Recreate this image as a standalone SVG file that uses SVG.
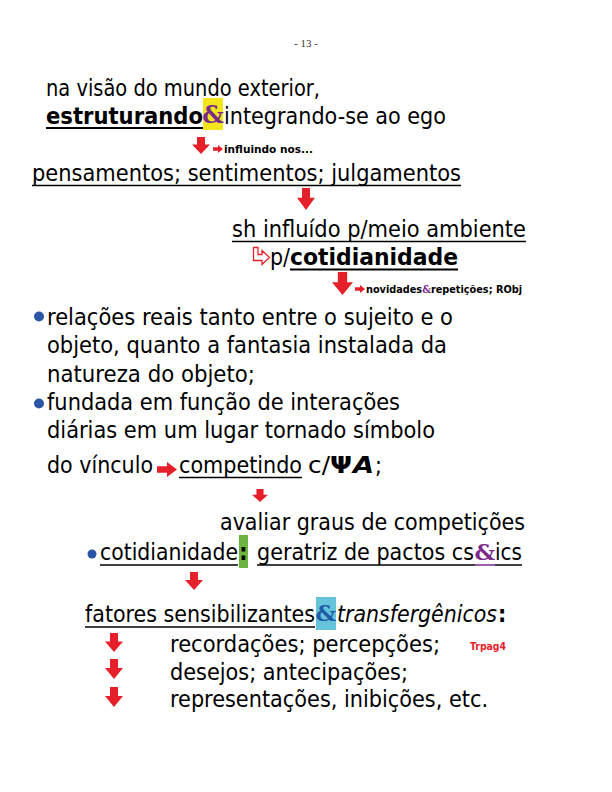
<svg xmlns="http://www.w3.org/2000/svg" width="612" height="792" viewBox="0 0 612 792">
<style>
.t{font-family:"DejaVu Sans","Noto Sans",sans-serif;font-stretch:condensed;font-size:23px;fill:#000}
.b{font-weight:bold}
.i{font-style:italic}
.s{font-family:"DejaVu Sans","Noto Sans",sans-serif;font-stretch:condensed;font-size:11px;font-weight:bold;fill:#000}
.amp{font-family:"DejaVu Serif","Liberation Serif",serif;font-weight:bold;font-size:24px}
.ul{stroke:#000;stroke-width:1.5}
.ulb{stroke:#000;stroke-width:2.2}
.bul{fill:#2b55a5}
</style>
<defs>
<symbol id="dn" viewBox="0 0 18 18" preserveAspectRatio="none"><path d="M5,0 H13 V8 H18 L9,18 L0,8 H5 Z" fill="#e5202a"/></symbol>
<symbol id="rt" viewBox="0 0 18 18" preserveAspectRatio="none"><path d="M0,5 H9 V0 L18,9 L9,18 V13 H0 Z" fill="#e5202a"/></symbol>
</defs>

<text x="306" y="47" text-anchor="middle" style="font-family:'Liberation Serif',serif;font-size:11px;fill:#333">- 13 -</text>

<g id="line1">
<text class="t" x="46" y="96" textLength="274" lengthAdjust="spacingAndGlyphs">na visão do mundo exterior,</text>
</g>

<g id="line2">
<text class="t b" x="46" y="124" textLength="157" lengthAdjust="spacingAndGlyphs">estruturando</text>
<line class="ulb" x1="46" y1="128" x2="203" y2="128"/>
<rect x="203" y="98" width="20" height="32" fill="#f2e51c"/>
<text class="amp" x="213" y="123" text-anchor="middle" fill="#7b2a8c">&amp;</text>
<text class="t" x="224" y="124" textLength="222" lengthAdjust="spacingAndGlyphs">integrando-se ao ego</text>
</g>

<g id="connectors">
<use href="#dn" x="192" y="137" width="18" height="17"/>
<use href="#rt" x="213" y="145" width="10" height="8"/>
<use href="#dn" x="297" y="188" width="18" height="22"/>
<path d="M253.5,247.5 H258 V254.5 H262 V250.5 L269.5,257.5 L262,264.5 V260.5 H253.5 Z" fill="#fff" stroke="#e5202a" stroke-width="1.3"/>
<use href="#dn" x="332" y="272" width="21" height="23"/>
<use href="#rt" x="355" y="285" width="10" height="8"/>
<use href="#rt" x="157" y="462" width="20" height="15"/>
<use href="#dn" x="252" y="489" width="16" height="13"/>
<use href="#dn" x="185" y="572" width="18" height="18"/>
<use href="#dn" x="105" y="633" width="18" height="19"/>
<use href="#dn" x="105" y="659" width="18" height="20"/>
<use href="#dn" x="105" y="687" width="18" height="20"/>
</g>

<g id="influindo">
<text class="s" x="224" y="153" textLength="89" lengthAdjust="spacingAndGlyphs">influindo nos...</text>
</g>

<g id="pensamentos">
<text class="t" x="32" y="181" textLength="429" lengthAdjust="spacingAndGlyphs">pensamentos; sentimentos; julgamentos</text>
<line class="ul" x1="32" y1="185.5" x2="461" y2="185.5"/>
</g>

<g id="sh">
<text class="t" x="232" y="237" textLength="294" lengthAdjust="spacingAndGlyphs">sh influído p/meio ambiente</text>
<line class="ul" x1="232" y1="241.5" x2="526" y2="241.5"/>
</g>

<g id="cotid1">
<text class="t" x="270" y="265" textLength="20" lengthAdjust="spacingAndGlyphs">p/</text>
<text class="t b" x="290" y="265" textLength="168" lengthAdjust="spacingAndGlyphs">cotidianidade</text>
<line class="ulb" x1="290" y1="269.5" x2="458" y2="269.5"/>
</g>

<g id="novidades">
<text class="s" x="366" y="293" textLength="156" lengthAdjust="spacingAndGlyphs">novidades<tspan style="font-family:'DejaVu Serif',serif;fill:#7b2a8c">&amp;</tspan>repetições; RObj</text>
</g>

<g id="bullet1">
<circle class="bul" cx="39" cy="316.5" r="5"/>
<text class="t" x="47" y="325" textLength="406" lengthAdjust="spacingAndGlyphs">relações reais tanto entre o sujeito e o</text>
<text class="t" x="47" y="353" textLength="400" lengthAdjust="spacingAndGlyphs">objeto, quanto a fantasia instalada da</text>
<text class="t" x="47" y="382" textLength="208" lengthAdjust="spacingAndGlyphs">natureza do objeto;</text>
</g>

<g id="bullet2">
<circle class="bul" cx="39" cy="403.5" r="5"/>
<text class="t" x="47" y="410" textLength="353" lengthAdjust="spacingAndGlyphs">fundada em função de interações</text>
<text class="t" x="47" y="438" textLength="388" lengthAdjust="spacingAndGlyphs">diárias em um lugar tornado símbolo</text>
<text class="t" x="47" y="473" textLength="106" lengthAdjust="spacingAndGlyphs">do vínculo</text>
<text class="t" x="179" y="473" textLength="123" lengthAdjust="spacingAndGlyphs">competindo</text>
<line class="ul" x1="179" y1="477.5" x2="302" y2="477.5"/>
<text class="t" x="308" y="473" textLength="22" lengthAdjust="spacingAndGlyphs">c/</text>
<text class="t b" x="330" y="473" textLength="22" lengthAdjust="spacingAndGlyphs">Ψ</text>
<text class="t b i" x="353" y="473" textLength="21" lengthAdjust="spacingAndGlyphs">A</text>
<text class="t" x="375" y="473">;</text>
</g>

<g id="avaliar">
<text class="t" x="220" y="530" textLength="305" lengthAdjust="spacingAndGlyphs">avaliar graus de competições</text>
</g>

<g id="bullet3">
<circle class="bul" cx="92" cy="554" r="4.5"/>
<text class="t" x="100" y="560" textLength="138" lengthAdjust="spacingAndGlyphs">cotidianidade</text>
<line class="ul" x1="100" y1="565" x2="238" y2="565"/>
<rect x="239" y="535" width="9" height="33" fill="#6cb33f"/>
<text class="t b" x="243.5" y="560" text-anchor="middle">:</text>
<text class="t" x="257" y="560" textLength="217" lengthAdjust="spacingAndGlyphs">geratriz de pactos cs</text>
<text class="amp" x="485" y="560" text-anchor="middle" fill="#7b2a8c" style="font-size:23px">&amp;</text>
<text class="t" x="495" y="560" textLength="27" lengthAdjust="spacingAndGlyphs">ics</text>
<line class="ul" x1="257" y1="565" x2="475" y2="565"/>
<line x1="475" y1="565" x2="495" y2="565" stroke="#7b2a8c" stroke-width="1.5"/>
<line class="ul" x1="495" y1="565" x2="522" y2="565"/>
</g>

<g id="fatores">
<text class="t" x="85" y="622" textLength="230" lengthAdjust="spacingAndGlyphs">fatores sensibilizantes</text>
<line class="ul" x1="85" y1="627" x2="315" y2="627"/>
<rect x="316" y="597" width="20" height="33" fill="#66c4da"/>
<text class="amp" x="326" y="621" text-anchor="middle" fill="#1f5aa6" style="font-size:23px">&amp;</text>
<text class="t i" x="337" y="622" textLength="160" lengthAdjust="spacingAndGlyphs">transfergênicos</text>
<text class="t b" x="498" y="622">:</text>
</g>

<g id="list">
<text class="t" x="170" y="652" textLength="270" lengthAdjust="spacingAndGlyphs">recordações; percepções;</text>
<text x="470" y="650" textLength="36" lengthAdjust="spacingAndGlyphs" style="font-family:'DejaVu Sans',sans-serif;font-size:10px;font-weight:bold;fill:#e5202a">Trpag4</text>
<text class="t" x="170" y="680" textLength="238" lengthAdjust="spacingAndGlyphs">desejos; antecipações;</text>
<text class="t" x="170" y="707" textLength="318" lengthAdjust="spacingAndGlyphs">representações, inibições, etc.</text>
</g>
</svg>
